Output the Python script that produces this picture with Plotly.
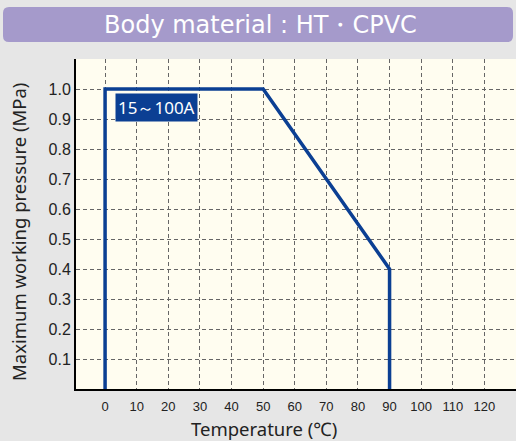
import plotly.graph_objects as go

temps = [0, 0, 50, 90, 90]
pressures = [0, 1.0, 1.0, 0.4, 0]
x_ticks = [0, 10, 20, 30, 40, 50, 60, 70, 80, 90, 100, 110, 120, 130]
x_ticktext = ["0", "10", "20", "30", "40", "50", "60", "70", "80", "90", "100", "110", "120", ""]
y_ticks = [0.1, 0.2, 0.3, 0.4, 0.5, 0.6, 0.7, 0.8, 0.9, 1.0, 1.1]
y_ticktext = ["0.1", "0.2", "0.3", "0.4", "0.5", "0.6", "0.7", "0.8", "0.9", "1.0", ""]
series_label = "15～100A"
title_text = "Body material : HT・CPVC"
x_title = "Temperature (℃)"
y_title = "Maximum working pressure (MPa)"

W, H = 516, 441
L, R, T, B = 76, 0, 59, 52
pw, ph = W - L - R, H - T - B

def px2paper(x, y):
    return (x - L) / pw, (H - B - y) / ph

fig = go.Figure()
fig.add_trace(go.Scatter(x=temps, y=pressures, mode="lines",
                         line=dict(color="#0b3f93", width=3.5),
                         hoverinfo="skip", showlegend=False, cliponaxis=False))

x0, y0 = 3, 7
x1, y1 = 513, 42
r = 6
def P(x, y):
    a, b = px2paper(x, y)
    return f"{a:.5f},{b:.5f}"
path = (f"M {P(x0 + r, y0)} L {P(x1 - r, y0)} Q {P(x1, y0)} {P(x1, y0 + r)} "
        f"L {P(x1, y1 - r)} Q {P(x1, y1)} {P(x1 - r, y1)} L {P(x0 + r, y1)} "
        f"Q {P(x0, y1)} {P(x0, y1 - r)} L {P(x0, y0 + r)} Q {P(x0, y0)} {P(x0 + r, y0)} Z")
fig.add_shape(type="path", path=path, xref="paper", yref="paper",
              fillcolor="#a59acb", line=dict(width=0), layer="above")

sans = "Liberation Sans, Arial, sans-serif"
wide = "Noto Sans, Open Sans, sans-serif"
tx, ty = px2paper(260, 25)
fig.add_annotation(x=tx, y=ty, xref="paper", yref="paper", text=title_text,
                   showarrow=False, font=dict(family="DejaVu Sans, Verdana, sans-serif", size=24, color="white"),
                   xanchor="center", yanchor="middle")

ax, ay = px2paper(264, 428)
fig.add_annotation(x=ax, y=ay, xref="paper", yref="paper", text=x_title,
                   showarrow=False, font=dict(family=wide, size=18.5, color="#222"),
                   xanchor="center", yanchor="middle")
bx, by = px2paper(19, 232)
fig.add_annotation(x=bx, y=by, xref="paper", yref="paper", text=y_title, textangle=-90,
                   showarrow=False, font=dict(family=wide, size=18.5, color="#222"),
                   xanchor="center", yanchor="middle")

fig.add_annotation(x=3, y=0.937, xref="x", yref="y", text=series_label,
                   showarrow=False, xanchor="left", yanchor="middle",
                   font=dict(family=wide, size=17, color="white"),
                   bgcolor="#0b3f93", borderpad=2)

fig.update_layout(
    width=W, height=H,
    margin=dict(l=L, r=R, t=T, b=B, autoexpand=False),
    paper_bgcolor="#e6e6e6",
    plot_bgcolor="#fffdf0",
    xaxis=dict(range=[-9.2, 130], tickvals=x_ticks, ticktext=x_ticktext, automargin=False,
               showgrid=True, gridcolor="#666666", griddash="4px,3px", gridwidth=1,
               zeroline=False, showline=True, linecolor="black", linewidth=2,
               ticks="", ticklabelstandoff=4,
               tickfont=dict(family=sans, size=13, color="#222"),
               fixedrange=True),
    yaxis=dict(range=[0, 1.1], tickvals=y_ticks, ticktext=y_ticktext, automargin=False,
               showgrid=True, gridcolor="#666666", griddash="4px,3px", gridwidth=1,
               zeroline=False, showline=True, linecolor="black", linewidth=2,
               ticks="", tickfont=dict(family=sans, size=16, color="#222"),
               fixedrange=True),
)

fig.write_html("out.html", config={"displayModeBar": False},
               post_script="document.body.style.margin='0';document.body.style.overflow='hidden';window.dispatchEvent(new Event('resize'));")
